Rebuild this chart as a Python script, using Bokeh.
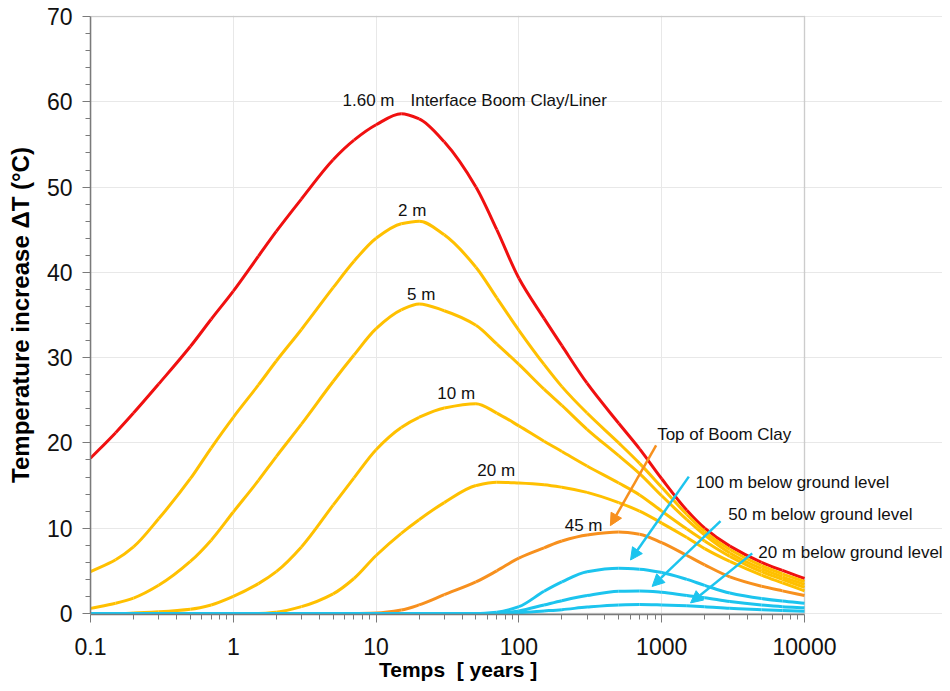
import math
from bokeh.plotting import figure
from bokeh.models import (Range1d, FixedTicker, CustomJSTickFormatter, Label, Arrow,
                          NormalHead, BoxAnnotation, ColumnDataSource)
from bokeh.embed import file_html
from bokeh.resources import INLINE

# ---------------- data ----------------
years = [0.1, 0.15, 0.2, 0.3, 0.5, 0.7, 1, 1.5, 2, 3, 5, 7, 10, 15, 20, 30, 50, 70,
         100, 150, 200, 300, 500, 700, 1000, 1500, 2000, 3000, 5000, 7000, 10000]

dT_160m = [18.2, 21.2, 23.5, 26.9, 31.3, 34.5, 37.8, 41.9, 44.8, 48.6, 53.2, 55.5, 57.3,
           58.6, 58.0, 55.3, 50.0, 45.0, 39.3, 34.6, 31.4, 27.0, 22.3, 19.3, 15.8, 12.1,
           10.0, 7.9, 6.0, 5.05, 4.1]
dT_2m = [4.9, 6.3, 7.8, 11.1, 15.8, 19.4, 23.0, 26.8, 29.6, 33.3, 38.2, 41.3, 44.0, 45.7,
         46.0, 44.4, 40.6, 37.0, 33.2, 29.2, 26.6, 23.5, 20.0, 17.6, 14.8, 11.6, 9.6, 7.5,
         5.6, 4.65, 3.75]
dT_5m = [0.6, 1.2, 1.8, 3.3, 6.1, 8.6, 11.9, 15.6, 18.4, 22.2, 27.2, 30.3, 33.4, 35.6,
         36.3, 35.5, 33.8, 31.6, 29.2, 26.3, 24.4, 21.6, 18.5, 16.4, 13.8, 11.0, 9.2, 7.1,
         5.25, 4.3, 3.4]
dT_10m = [0.0, 0.0, 0.05, 0.2, 0.5, 1.0, 2.0, 3.5, 4.9, 7.8, 12.7, 15.9, 19.2, 21.8, 23.0,
          24.1, 24.6, 23.5, 22.0, 20.2, 19.0, 17.3, 15.3, 13.9, 12.0, 9.9, 8.5, 6.7, 4.9,
          4.0, 3.05]
dT_20m = [0.0, 0.0, 0.0, 0.0, 0.0, 0.0, 0.0, 0.0, 0.15, 0.8, 2.3, 4.1, 6.8, 9.4, 11.0,
          13.0, 15.0, 15.4, 15.3, 15.1, 14.8, 14.2, 13.0, 12.0, 10.6, 8.9, 7.6, 6.1, 4.5,
          3.6, 2.65]
dT_45m = [0.0, 0.0, 0.0, 0.0, 0.0, 0.0, 0.0, 0.0, 0.0, 0.0, 0.0, 0.0, 0.05, 0.4, 1.0,
          2.2, 3.7, 5.0, 6.5, 7.7, 8.5, 9.2, 9.55, 9.3, 8.3, 6.8, 5.7, 4.3, 3.2, 2.65, 2.1]
dT_100bgl = [0.0] * 17 + [0.15, 0.8, 2.6, 3.7, 4.9, 5.3, 5.2, 4.8, 4.0, 3.3, 2.4, 1.75,
                          1.45, 1.2]
dT_50bgl = [0.0] * 17 + [0.0, 0.3, 1.0, 1.5, 2.1, 2.6, 2.65, 2.5, 2.1, 1.85, 1.4, 1.0,
                         0.8, 0.66]
dT_20bgl = [0.0] * 17 + [0.0, 0.1, 0.3, 0.45, 0.75, 1.0, 1.05, 1.0, 0.9, 0.8, 0.6, 0.45,
                         0.35, 0.27]

x_ticks = [0.1, 1, 10, 100, 1000, 10000]
y_ticks = [0, 10, 20, 30, 40, 50, 60, 70]

# curve labels (text, x, y)
curve_labels = [("2 m", 17.9, 47.2), ("5 m", 20.7, 37.4), ("10 m", 36.4, 25.8),
                ("20 m", 69.3, 16.8), ("45 m", 284, 10.3)]
# free annotations (text, x_left, y_center)
notes = [("1.60 m", 5.82, 60.1), ("Interface Boom Clay/Liner", 17.4, 60.1),
         ("Top of Boom Clay", 929, 21.0), ("100 m below ground level", 1726, 15.4),
         ("50 m below ground level", 2924, 11.6), ("20 m below ground level", 4750, 7.1)]
# arrows (x_start, y_start, x_end, y_end, colour key)
arrows = [(914, 19.7, 437, 10.3, "orange"), (1549, 16.05, 605, 6.27, "blue"),
          (2582, 10.83, 857, 3.17, "blue"), (4303, 7.05, 1592, 1.24, "blue")]

RED, YELLOW, ORANGE, BLUE = "#F01010", "#FFC000", "#F7901E", "#1CC4EE"
FONT = "Liberation Sans"
X_MIN, X_MAX, Y_MIN, Y_MAX = 0.1, 10000, 0, 70


def smooth_segments(xs, ys):
    """Monotone (PCHIP) cubic through the read points, in log10(x) space,
    expressed as Bezier segments for Bokeh's bezier glyph."""
    u = [math.log10(v) for v in xs]
    n = len(u)
    h = [u[i + 1] - u[i] for i in range(n - 1)]
    d = [(ys[i + 1] - ys[i]) / h[i] for i in range(n - 1)]
    m = [0.0] * n
    m[0], m[-1] = d[0], d[-1]
    for i in range(1, n - 1):
        if d[i - 1] * d[i] <= 0:
            m[i] = 0.0
        else:
            w1 = 2 * h[i] + h[i - 1]
            w2 = h[i] + 2 * h[i - 1]
            m[i] = (w1 + w2) / (w1 / d[i - 1] + w2 / d[i])
    seg = dict(x0=[], y0=[], x1=[], y1=[], cx0=[], cy0=[], cx1=[], cy1=[])
    for i in range(n - 1):
        seg["x0"].append(xs[i]); seg["y0"].append(ys[i])
        seg["x1"].append(xs[i + 1]); seg["y1"].append(ys[i + 1])
        seg["cx0"].append(10 ** (u[i] + h[i] / 3)); seg["cy0"].append(ys[i] + m[i] * h[i] / 3)
        seg["cx1"].append(10 ** (u[i + 1] - h[i] / 3)); seg["cy1"].append(ys[i + 1] - m[i + 1] * h[i] / 3)
    return ColumnDataSource(seg)


# frame extends to the right so that the annotation texts are not clipped;
# the chart box itself ends at 10000 years.
p = figure(width=942, height=683, x_axis_type="log", output_backend="svg",
           toolbar_location=None, x_range=Range1d(0.1, 92550),
           y_range=Range1d(-0.12, 70.116),
           min_border_left=90, min_border_right=0, min_border_top=15,
           min_border_bottom=66)
p.background_fill_color = "white"
p.border_fill_color = "white"
p.outline_line_color = None

minor_x = [mm * 10.0 ** e for e in range(-1, 4) for mm in range(2, 10)]
p.xaxis.ticker = FixedTicker(ticks=x_ticks, minor_ticks=minor_x)
p.yaxis.ticker = FixedTicker(ticks=y_ticks, minor_ticks=[v for v in range(0, 71, 2) if v % 10])
p.xaxis.formatter = CustomJSTickFormatter(code="return String(tick);")
p.xaxis.bounds = (X_MIN, X_MAX)
p.yaxis.bounds = (Y_MIN, Y_MAX)

for ax in (p.xaxis[0], p.yaxis[0]):
    ax.axis_line_color = "#7a7a7a"
    ax.axis_line_width = 1.5
    ax.major_tick_line_color = "#7a7a7a"
    ax.minor_tick_line_color = "#7a7a7a"
    ax.major_tick_in = 0
    ax.major_tick_out = 8
    ax.minor_tick_in = 0
    ax.minor_tick_out = 5
    ax.major_label_text_font = FONT
    ax.major_label_text_font_size = "23px"
    ax.major_label_text_color = "#111111"
    ax.axis_label_text_font = FONT
    ax.axis_label_text_font_style = "bold"
    ax.axis_label_text_color = "#000000"

# the axis title is centred on the (wider) frame; trailing no-break spaces move it
# back over the chart box
p.xaxis.axis_label = "Temps\u00a0\u00a0[ years ]" + "\u00a0" * 20
p.yaxis.axis_label = "Temperature increase \u0394T (\u00b0C)"
p.xaxis.axis_label_text_font_size = "21px"
p.yaxis.axis_label_text_font_size = "24px"
p.xaxis.major_label_standoff = 15
p.yaxis.major_label_standoff = 10
p.xaxis.axis_label_standoff = 0
p.yaxis.axis_label_standoff = 10

for g in (p.xgrid[0], p.ygrid[0]):
    g.grid_line_color = "#e8e8e8"
    g.grid_line_width = 1
p.ygrid[0].bounds = (X_MIN, X_MAX)
p.xgrid[0].bounds = (Y_MIN, Y_MAX)

# chart box (top and right edges)
p.add_layout(BoxAnnotation(left=X_MIN, right=X_MAX, bottom=Y_MIN, top=Y_MAX,
                           fill_alpha=0, line_color="#8a8a8a", line_width=1.5,
                           level="underlay"))

series = [(dT_160m, RED), (dT_2m, YELLOW), (dT_5m, YELLOW), (dT_10m, YELLOW),
          (dT_20m, YELLOW), (dT_45m, ORANGE), (dT_100bgl, BLUE), (dT_50bgl, BLUE),
          (dT_20bgl, BLUE)]
for ys, col in series:
    src = smooth_segments(years, ys)
    p.bezier(x0="x0", y0="y0", x1="x1", y1="y1", cx0="cx0", cy0="cy0", cx1="cx1",
             cy1="cy1", source=src, line_color=col, line_width=3)

for txt, x, y in curve_labels:
    p.add_layout(Label(x=x, y=y, text=txt, text_align="center", text_baseline="middle",
                       text_font=FONT, text_font_size="17px", text_color="#111111"))
for txt, x, y in notes:
    p.add_layout(Label(x=x, y=y, text=txt, text_align="left", text_baseline="middle",
                       text_font=FONT, text_font_size="17px", text_color="#111111"))

cols = {"orange": ORANGE, "blue": BLUE}
for xs, ys_, xe, ye, key in arrows:
    c = cols[key]
    p.add_layout(Arrow(x_start=xs, y_start=ys_, x_end=xe, y_end=ye, line_color=c,
                       line_width=2.5,
                       end=NormalHead(size=12, fill_color=c, line_color=c)))

open("out.html", "w").write(file_html(p, INLINE))
